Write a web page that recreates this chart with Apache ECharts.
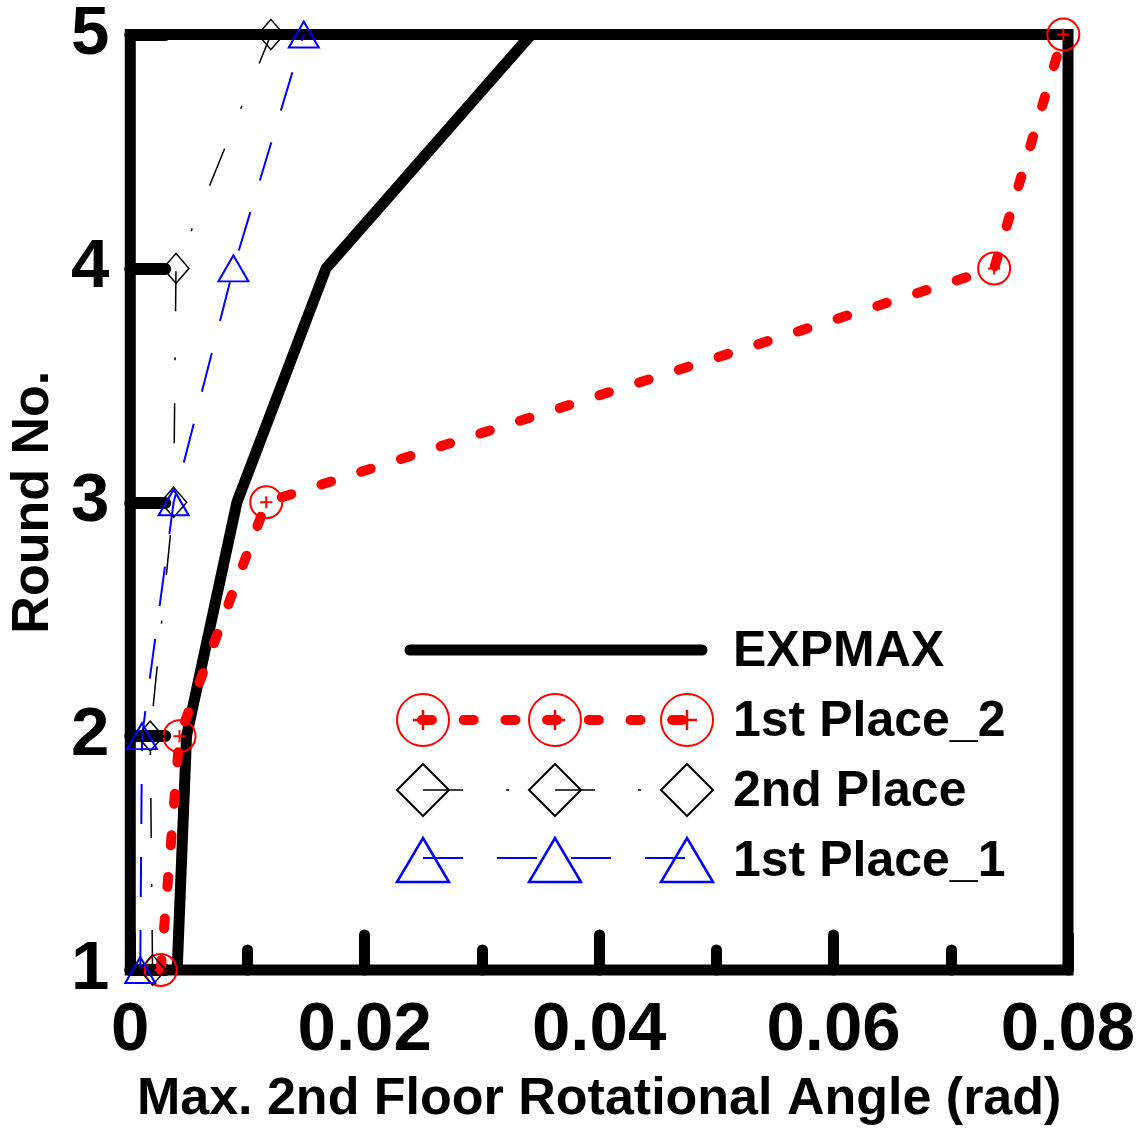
<!DOCTYPE html>
<html>
<head>
<meta charset="utf-8">
<script src="https://cdn.jsdelivr.net/npm/echarts@6/dist/echarts.min.js"></script>
<style>
  html, body { margin: 0; padding: 0; background: #fff; }
  #chart-container { width: 1140px; height: 1131px; }
</style>
</head>
<body>
<div id="chart-container"></div>
<script>
  // Round numbers (y) and max rotational angle (x) per series
  var rounds = [1, 2, 3, 4, 5];
  var expmax = [0.0040, 0.0048, 0.0091, 0.0167, 0.0342];
  var firstPlace2 = [0.0026, 0.0042, 0.0116, 0.0737, 0.0796];
  var secondPlace = [0.0019, 0.0017, 0.0037, 0.0039, 0.0120];
  var firstPlace1 = [0.00085, 0.0010, 0.0037, 0.0088, 0.0148];
  var seriesNames = ['EXPMAX', '1st Place_2', '2nd Place', '1st Place_1'];

  var FONT = "'Liberation Sans', Arial, sans-serif";

  function pairs(xs) {
    return xs.map(function (x, i) { return [x, rounds[i]]; });
  }

  var dom = document.getElementById('chart-container');
  var myChart = echarts.init(dom, null, { renderer: 'canvas' });

  // circle with a plus inside
  var circlePlus = 'path://M0,-10 A10,10 0 1,1 0,10 A10,10 0 1,1 0,-10 Z M-3.8,0 L3.8,0 M0,-3.8 L0,3.8';

  // hand-drawn legend (three markers per row, like the original)
  var lx = [423, 555, 687];
  var legendItems = [];
  legendItems.push({ type: 'line', shape: { x1: 410, y1: 650, x2: 702, y2: 650 },
    style: { stroke: '#000', lineWidth: 11, lineCap: 'round' } });
  lx.forEach(function (x) {
    legendItems.push({ type: 'circle', shape: { cx: x, cy: 720, r: 26 },
      style: { fill: 'none', stroke: '#ff0000', lineWidth: 2 } });
    legendItems.push({ type: 'line', shape: { x1: x - 10, y1: 720, x2: x + 10, y2: 720 },
      style: { stroke: '#ff0000', lineWidth: 2.5 } });
    legendItems.push({ type: 'line', shape: { x1: x, y1: 710, x2: x, y2: 730 },
      style: { stroke: '#ff0000', lineWidth: 2.5 } });
    legendItems.push({ type: 'polygon', shape: { points: [[x, 764], [x + 26, 790], [x, 816], [x - 26, 790]] },
      style: { fill: 'none', stroke: '#000', lineWidth: 2 } });
    legendItems.push({ type: 'polygon', shape: { points: [[x, 838], [x + 26, 882], [x - 26, 882]] },
      style: { fill: 'none', stroke: '#0000ff', lineWidth: 2.5 } });
  });
  legendItems.push({ type: 'line', shape: { x1: 422, y1: 720, x2: 690, y2: 720 },
    style: { stroke: '#ff0000', lineWidth: 10, lineCap: 'round', lineDash: [10, 31.7] } });
  legendItems.push({ type: 'line', shape: { x1: 423, y1: 790, x2: 687, y2: 790 },
    style: { stroke: '#000', lineWidth: 1.5, lineDash: [40, 43, 3, 46] } });
  legendItems.push({ type: 'line', shape: { x1: 423, y1: 858, x2: 687, y2: 858 },
    style: { stroke: '#0000ff', lineWidth: 2, lineDash: [40, 34] } });
  [650, 720, 790, 860].forEach(function (y, i) {
    legendItems.push({ type: 'text', x: 733, y: y + 2,
      style: { text: seriesNames[i], fill: '#000', font: 'bold 50px ' + FONT, textVerticalAlign: 'middle' } });
  });

  var option = {
    backgroundColor: '#fff',
    animation: false,
    grid: {
      left: 125, top: 34, right: 72, bottom: 155,
      show: true, borderColor: '#000', borderWidth: 11, backgroundColor: 'transparent'
    },
    xAxis: {
      type: 'value', min: 0, max: 0.08, interval: 0.02,
      name: 'Max. 2nd Floor Rotational Angle (rad)',
      nameLocation: 'middle', nameGap: 104,
      nameTextStyle: { fontFamily: FONT, fontWeight: 'bold', fontSize: 52, color: '#000' },
      axisLine: { show: false },
      axisTick: { show: true, inside: true, length: 35, lineStyle: { color: '#000', width: 11, cap: 'round' } },
      minorTick: { show: true, splitNumber: 2, length: 20, lineStyle: { color: '#000', width: 11, cap: 'round' } },
      splitLine: { show: false },
      axisLabel: { margin: 26, fontFamily: FONT, fontWeight: 'bold', fontSize: 69, color: '#000' }
    },
    yAxis: {
      type: 'value', min: 1, max: 5, interval: 1,
      name: 'Round No.',
      nameLocation: 'middle', nameGap: 66, nameRotate: 90,
      nameTextStyle: { fontFamily: FONT, fontWeight: 'bold', fontSize: 52, color: '#000' },
      axisLine: { show: false },
      axisTick: { show: true, inside: true, length: 35, lineStyle: { color: '#000', width: 12, cap: 'round' } },
      splitLine: { show: false },
      axisLabel: { margin: 21, fontFamily: FONT, fontWeight: 'bold', fontSize: 69, color: '#000' }
    },
    series: [
      {
        name: seriesNames[0], type: 'line', data: pairs(expmax), clip: false,
        showSymbol: false, symbol: 'none',
        lineStyle: { color: '#000', width: 11, join: 'round' }
      },
      {
        name: seriesNames[1], type: 'line', data: pairs(firstPlace2), clip: false,
        symbol: circlePlus, symbolSize: 32,
        itemStyle: { color: 'transparent', borderColor: '#ff0000', borderWidth: 2 },
        lineStyle: { color: '#ff0000', width: 10, type: [10, 31.7], cap: 'round' }
      },
      {
        name: seriesNames[2], type: 'line', data: pairs(secondPlace), clip: false,
        symbol: 'diamond', symbolSize: [26, 30],
        itemStyle: { color: 'transparent', borderColor: '#000', borderWidth: 1.5 },
        lineStyle: { color: '#000', width: 1.5, type: [40, 43, 3, 46] }
      },
      {
        name: seriesNames[3], type: 'line', data: pairs(firstPlace1), clip: false,
        symbol: 'triangle', symbolSize: [30, 26],
        itemStyle: { color: 'transparent', borderColor: '#0000ff', borderWidth: 2 },
        lineStyle: { color: '#0000ff', width: 2, type: [40, 33] }
      }
    ],
    graphic: legendItems
  };

  myChart.setOption(option);
</script>
</body>
</html>
